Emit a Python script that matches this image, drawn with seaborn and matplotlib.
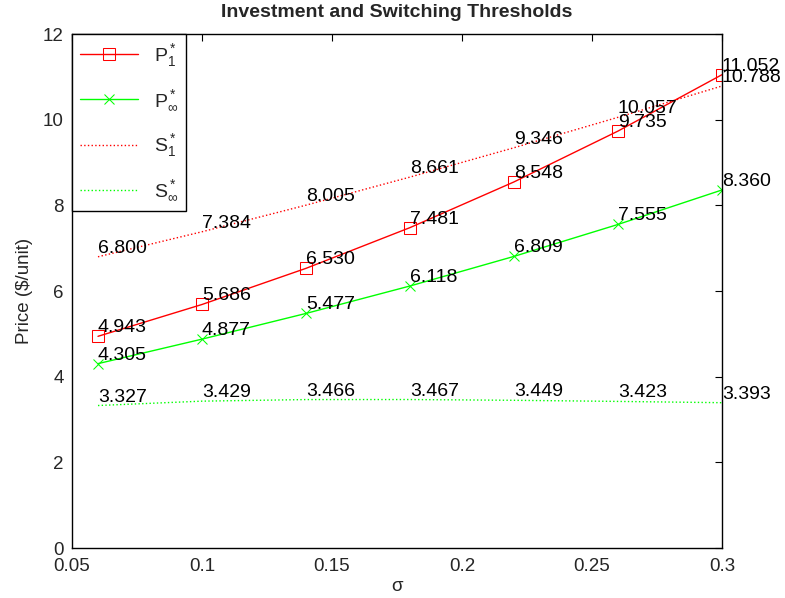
import matplotlib
matplotlib.use("Agg")
import matplotlib.pyplot as plt
import seaborn as sns
import pandas as pd

sigma = [0.06, 0.10, 0.14, 0.18, 0.22, 0.26, 0.30]
p_one = [4.943, 5.686, 6.530, 7.481, 8.548, 9.735, 11.052]
p_inf = [4.305, 4.877, 5.477, 6.118, 6.809, 7.555, 8.360]
s_one = [6.800, 7.384, 8.005, 8.661, 9.346, 10.057, 10.788]
s_inf = [3.327, 3.429, 3.466, 3.467, 3.449, 3.423, 3.393]

labels = [r'$\mathregular{P^*_1}$', r'$\mathregular{P^*_\infty}$',
          r'$\mathregular{S^*_1}$', r'$\mathregular{S^*_\infty}$']

sns.set_style("white")
plt.rcParams['font.family'] = ['Liberation Sans', 'DejaVu Sans']
plt.rcParams['mathtext.fontset'] = 'custom'
plt.rcParams['mathtext.rm'] = 'Liberation Sans'
plt.rcParams['mathtext.it'] = 'Liberation Sans'

fig = plt.figure(figsize=(7.85, 5.98), dpi=100)
ax = fig.add_axes([0.0917, 0.0836, 0.828, 0.8594])

df = pd.DataFrame({'sigma': sigma, 'p1': p_one, 'pinf': p_inf, 's1': s_one, 'sinf': s_inf})

sns.lineplot(data=df, x='sigma', y='p1', ax=ax, color=(1, 0, 0), marker='s', markersize=8,
             markerfacecolor='none', markeredgecolor=(1, 0, 0), linewidth=1, label=labels[0])
sns.lineplot(data=df, x='sigma', y='pinf', ax=ax, color=(0, 1, 0), marker='x', markersize=7,
             markeredgecolor=(0, 1, 0), linewidth=1, label=labels[1])
sns.lineplot(data=df, x='sigma', y='s1', ax=ax, color=(1, 0, 0), linestyle=':', linewidth=1,
             label=labels[2])
sns.lineplot(data=df, x='sigma', y='sinf', ax=ax, color=(0, 1, 0), linestyle=':', linewidth=1,
             label=labels[3])

for series in (p_one, p_inf, s_one, s_inf):
    for xv, yv in zip(sigma, series):
        ax.text(xv, yv, f'{yv:.3f}', fontsize=14, ha='left', va='bottom', color='black')

ax.set_xlim(0.05, 0.3)
ax.set_ylim(0, 12)
ax.set_xticks([0.05, 0.1, 0.15, 0.2, 0.25, 0.3])
ax.set_xticklabels(['0.05', '0.1', '0.15', '0.2', '0.25', '0.3'])
ax.set_yticks([0, 2, 4, 6, 8, 10, 12])
ax.tick_params(direction='in', top=True, right=True, labelsize=13.5, length=5, width=0.8,
               color='black')
ax.tick_params(axis='x', pad=7)
ax.tick_params(axis='y', pad=6)
for sp in ax.spines.values():
    sp.set_visible(True)
    sp.set_color('black')
    sp.set_linewidth(1)

ax.set_xlabel('σ', fontsize=13.5, labelpad=2)
ax.set_ylabel('Price ($/unit)', fontsize=13.5, labelpad=7)
ax.set_title('Investment and Switching Thresholds', fontsize=14, fontweight='bold', pad=12)

leg = ax.legend(loc='upper left', fontsize=14, frameon=True, fancybox=False,
                edgecolor='black', framealpha=1, borderaxespad=0, handlelength=3.0,
                labelspacing=1.0)
leg.get_frame().set_linewidth(1)

fig.savefig('out.png', dpi=100, facecolor='white')
